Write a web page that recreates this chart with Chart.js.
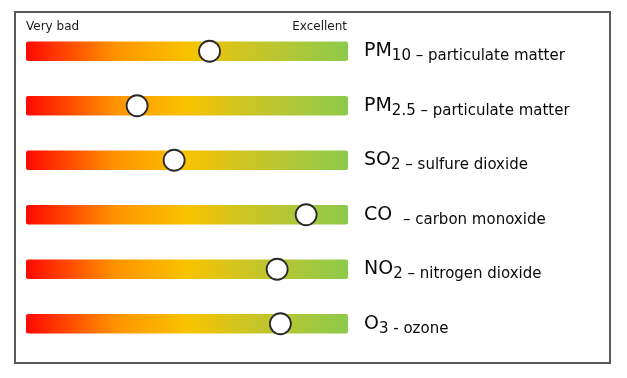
<!DOCTYPE html>
<html><head><meta charset="utf-8">
<script src="https://cdn.jsdelivr.net/npm/chart.js@4"></script>
<style>html,body{margin:0;padding:0;background:#fff}#wrap{width:627px;height:378px;position:relative}</style>
</head><body><div id="wrap"><canvas id="c" width="627" height="378"></canvas></div>
<script>
const pollutants = ['PM10', 'PM2.5', 'SO2', 'CO', 'NO2', 'O3'];
const formulaMain = ['PM', 'PM', 'SO', 'CO', 'NO', 'O'];
const formulaSub = ['10', '2.5', '2', '', '2', '3'];
const descriptions = ['– particulate matter', '– particulate matter', '– sulfure dioxide', '– carbon monoxide', '– nitrogen dioxide', '- ozone'];
const qualityScores = [57, 34.5, 46, 87, 78, 79];
const scaleMin = 0;
const scaleMax = 100;
const scaleEndLabels = ['Very bad', 'Excellent'];

const FONT = "'DejaVu Sans', sans-serif";

const framePlugin = {
  id: 'frame',
  beforeDraw(chart) {
    const c = chart.ctx;
    c.save();
    c.fillStyle = '#fff';
    c.fillRect(0, 0, chart.width, chart.height);
    c.strokeStyle = '#5a5a5a';
    c.lineWidth = 2;
    c.strokeRect(15, 12, 595, 351);
    c.restore();
  }
};

const labelPlugin = {
  id: 'labels',
  afterDatasetsDraw(chart) {
    const c = chart.ctx;
    const xs = chart.scales.x, ys = chart.scales.y;
    c.save();
    c.fillStyle = '#1a1a1a';
    c.font = '12px ' + FONT;
    c.textBaseline = 'alphabetic';
    c.textAlign = 'left';
    c.fillText(scaleEndLabels[0], xs.getPixelForValue(scaleMin), 30);
    c.textAlign = 'right';
    c.fillText(scaleEndLabels[1], xs.getPixelForValue(scaleMax) - 1, 30);
    c.textAlign = 'left';
    c.fillStyle = '#0a0a0a';
    pollutants.forEach((p, i) => {
      const yc = ys.getPixelForValue(i);
      let x = xs.getPixelForValue(scaleMax) + 16;
      c.font = '19px ' + FONT;
      c.fillText(formulaMain[i], x, yc + 5);
      x += c.measureText(formulaMain[i]).width;
      if (formulaSub[i]) {
        c.font = '15px ' + FONT;
        c.fillText(formulaSub[i], x, yc + 9);
        x += c.measureText(formulaSub[i]).width;
      } else {
        x += 6;
      }
      c.font = '15px ' + FONT;
      c.fillText(' ' + descriptions[i], x, yc + 9);
    });
    c.restore();
  }
};

function barGradient(ctx) {
  const chart = ctx.chart;
  const xs = chart.scales.x;
  if (!xs || !chart.chartArea) return '#f5c400';
  const l = xs.getPixelForValue(scaleMin), r = xs.getPixelForValue(scaleMax);
  const g = chart.ctx.createLinearGradient(l, 0, r, 0);
  g.addColorStop(0, '#ff0800');
  g.addColorStop(0.28, '#ff9400');
  g.addColorStop(0.5, '#f8c300');
  g.addColorStop(0.72, '#c5c52a');
  g.addColorStop(1, '#8dca4c');
  return g;
}

new Chart(document.getElementById('c'), {
  type: 'bar',
  data: {
    labels: pollutants,
    datasets: [
      {
        type: 'scatter',
        data: qualityScores.map((v, i) => ({ x: v, y: pollutants[i] })),
        pointRadius: 10.5,
        pointHoverRadius: 10.5,
        backgroundColor: '#ffffff',
        borderColor: '#2a2a2a',
        borderWidth: 1.8,
        order: 0,
        clip: false
      },
      {
        type: 'bar',
        data: pollutants.map(() => [scaleMin, scaleMax]),
        backgroundColor: barGradient,
        borderRadius: 3,
        borderSkipped: false,
        barThickness: 19,
        order: 1
      }
    ]
  },
  options: {
    indexAxis: 'y',
    responsive: false,
    animation: false,
    events: [],
    layout: { padding: { left: 26, right: 279, top: 24, bottom: 27 } },
    plugins: { legend: { display: false }, tooltip: { enabled: false } },
    scales: {
      x: { type: 'linear', min: scaleMin, max: scaleMax, display: false },
      y: { type: 'category', labels: pollutants, offset: true, display: false }
    }
  },
  plugins: [framePlugin, labelPlugin]
});
</script>
</body></html>
